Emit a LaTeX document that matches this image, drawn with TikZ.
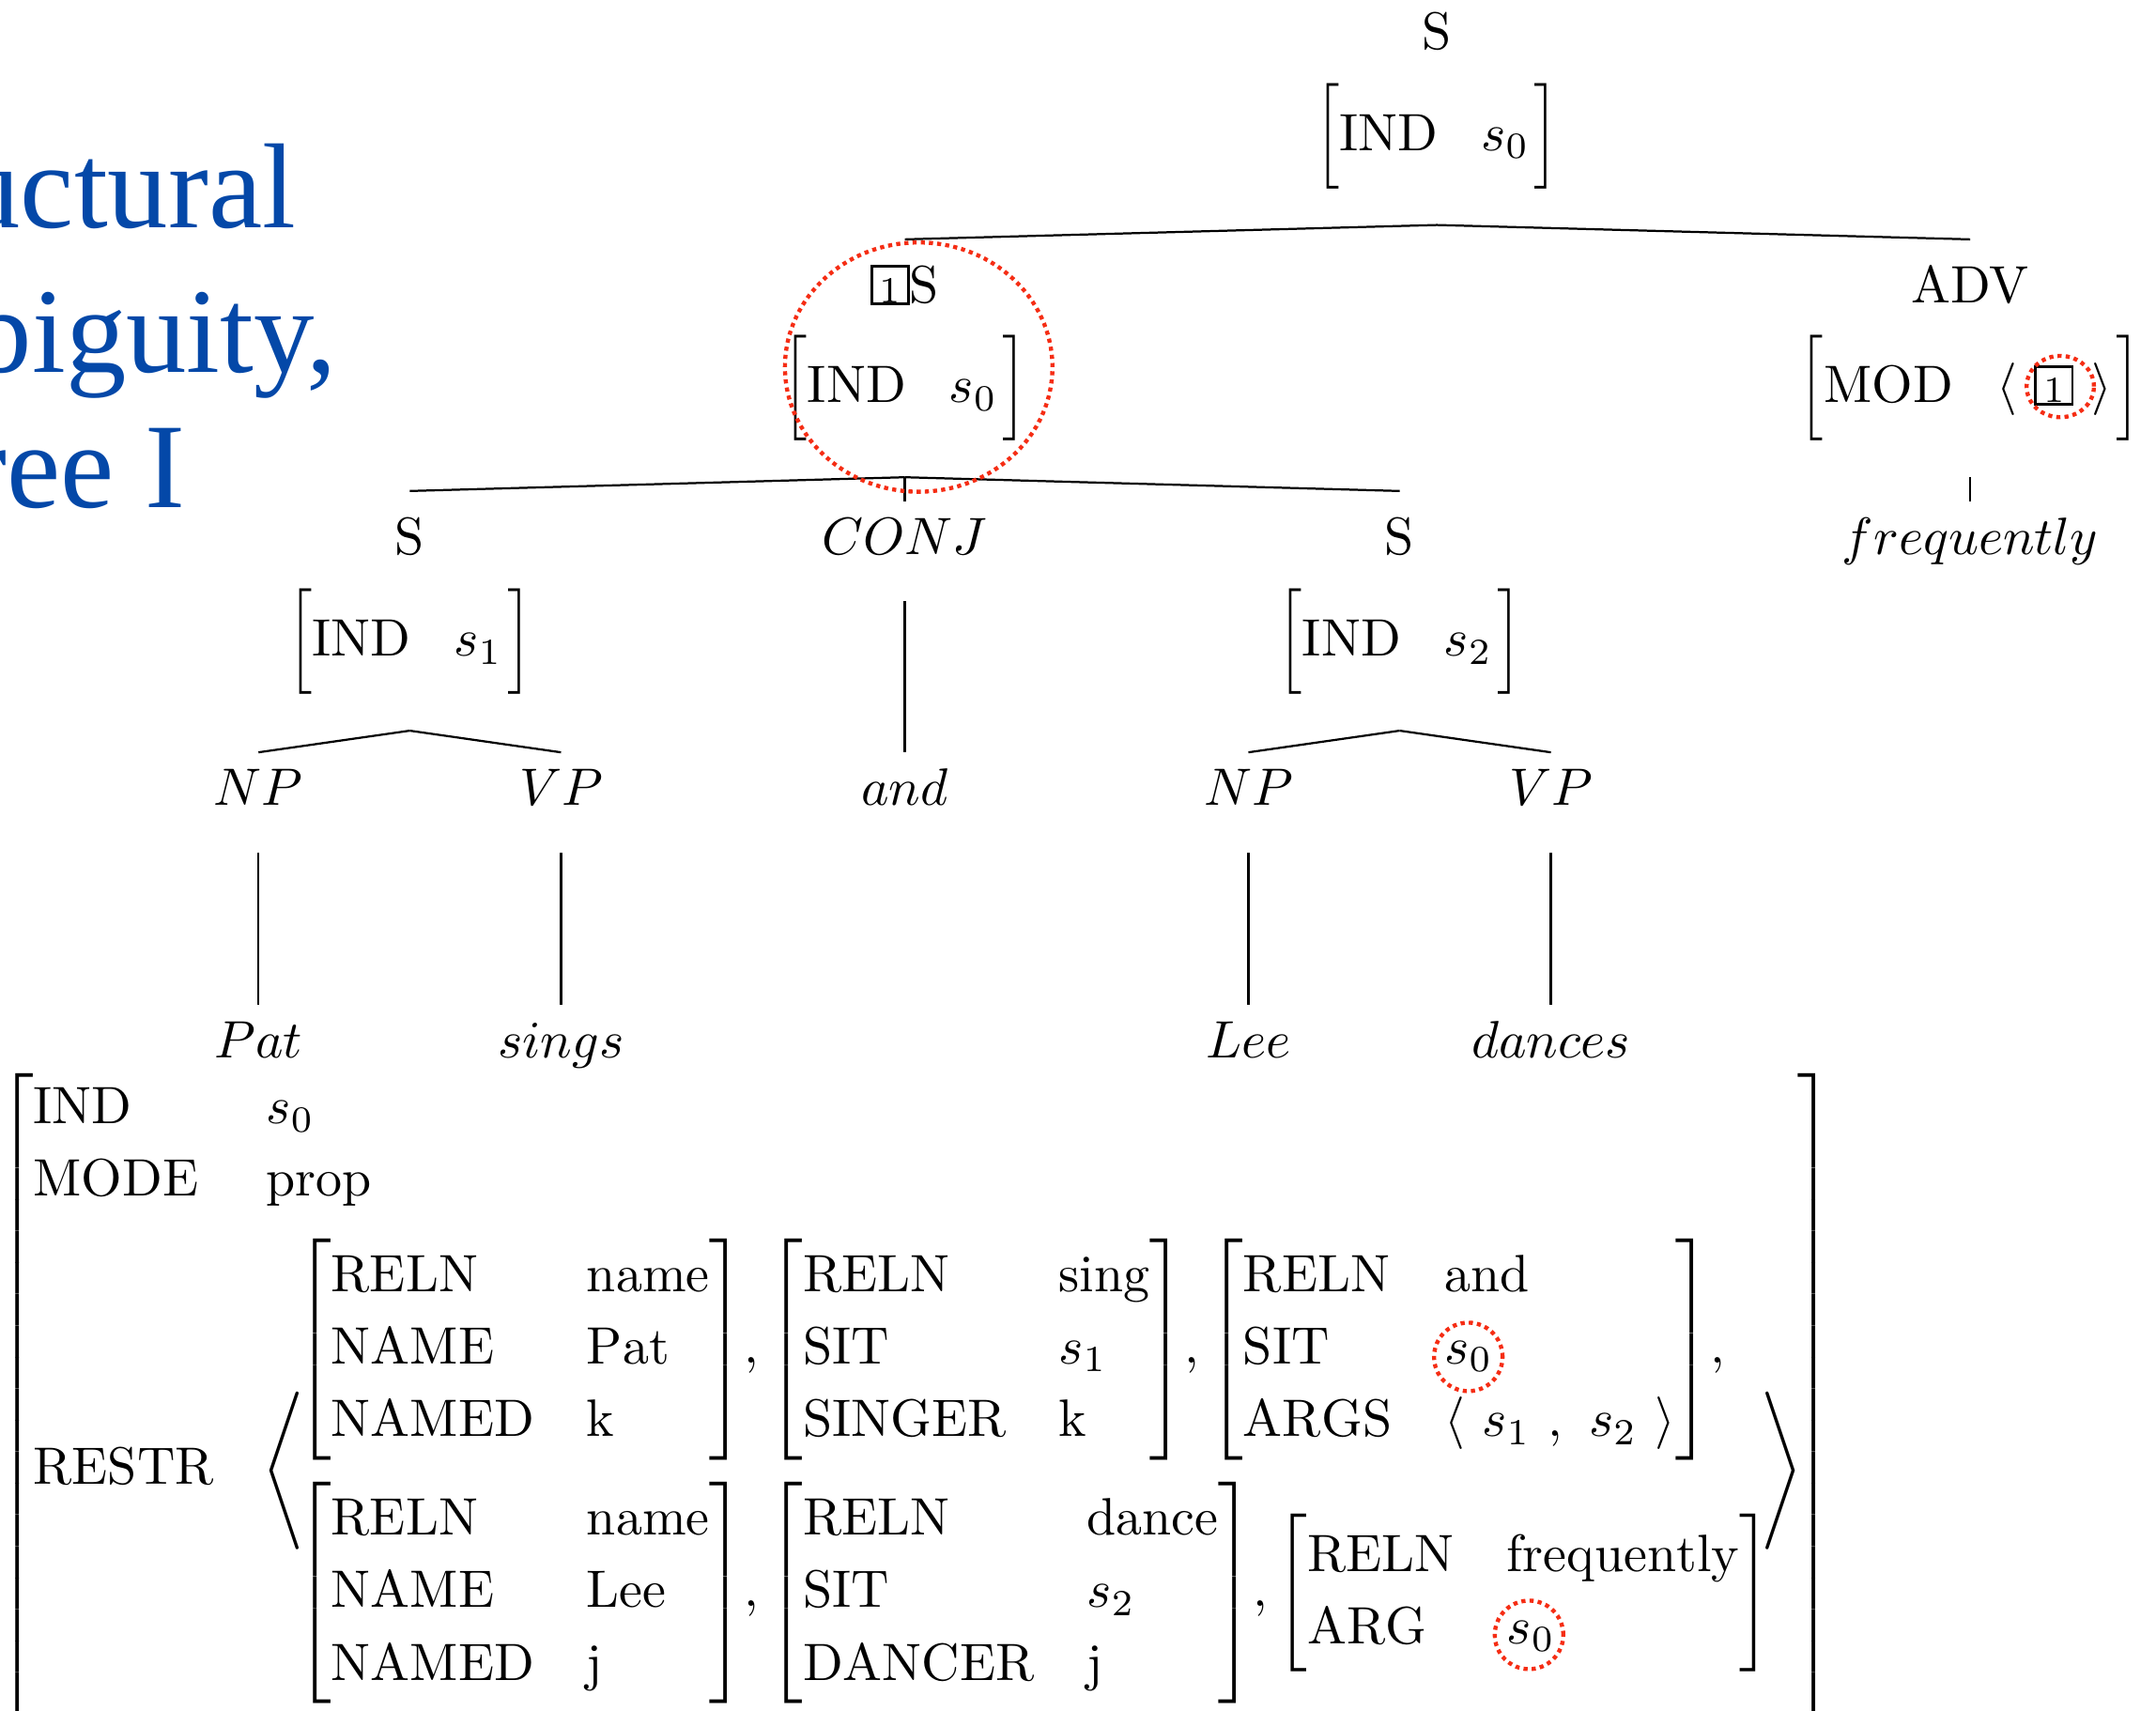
\documentclass[tikz,border=0pt]{standalone}
\usepackage{amsmath}
\usepackage{graphicx}
\usepackage{fontspec}
\newfontfamily\titlefont{Liberation Serif}
\definecolor{titleblue}{RGB}{4,72,168}
\definecolor{ringred}{RGB}{245,45,20}
\renewcommand{\arraystretch}{1.15}
\newcommand{\tagbox}[1]{{\setlength{\fboxsep}{0pt}\setlength{\fboxrule}{0.5pt}\fbox{\makebox[6.5pt]{\rule{0pt}{6.6pt}\scriptsize #1}}}}
\newcommand{\tlb}{\mathopen{\scalebox{1}[1.115]{$\Big[$}}}
\newcommand{\trb}{\mathclose{\scalebox{1}[1.115]{$\Big]$}}}
\newcommand{\avm}[1]{{\left[\begin{array}{@{}l@{\hspace{10pt}}l@{}}#1\end{array}\right]}}
\newcommand{\tavm}[2]{$\tlb\mathrm{#1}\hspace{8.2pt}#2\hspace{0.9pt}\trb$}
\tikzset{
  cat/.style={anchor=base, inner xsep=0pt, inner ysep=3pt, text height=6.9pt, text depth=5.8pt},
  head/.style={cat, text height=8.8pt},
  featbox/.style={inner xsep=0pt, inner ysep=6.7pt},
  ring/.style={draw=ringred, line width=0.78pt, dash pattern=on 0.78pt off 0.78pt},
  title/.style={anchor=base east, inner sep=0pt, text=titleblue, font=\titlefont\fontsize{23}{27}\selectfont}
}
\begin{document}
\begin{tikzpicture}
  \useasboundingbox (0,0) rectangle (14.412,11.434);
  % slide title, cut off at the left edge
  \node[title] (t1) at (1.985,9.911) {uctural};
  \node[title] (t2) at (2.258,8.944) {biguity,};
  \node[title] (t3) at (1.245,8.040) {ree I};

  % tree
  \node[cat] (root) at (9.605,11.107) {S};
  \node[featbox] (rootf) at (9.605,10.525) {\tavm{IND}{s_0}};
  \node[head] (s0) at (6.048,9.412) {\tagbox{1}S};
  \node[featbox] (s0f) at (6.048,8.839) {\tavm{IND}{s_0}};
  \node[head] (adv) at (13.17,9.412) {ADV};
  \node[featbox] (advf) at (13.17,8.839) {\tavm{MOD}{\langle\ \tagbox{1}\ \rangle}};
  \node[head] (s1) at (2.739,7.730) {S};
  \node[featbox] (s1f) at (2.739,7.145) {\tavm{IND}{s_1}};
  \node[cat] (conj) at (6.048,7.730) {$CONJ$};
  \node[head] (s2) at (9.356,7.730) {S};
  \node[featbox] (s2f) at (9.356,7.145) {\tavm{IND}{s_2}};
  \node[cat] (freq) at (13.17,7.730) {$frequently$};
  \node[cat] (np1) at (1.728,6.050) {$NP$};
  \node[cat] (vp1) at (3.750,6.050) {$VP$};
  \node[cat] (and) at (6.048,6.050) {$and$};
  \node[cat] (np2) at (8.345,6.050) {$NP$};
  \node[cat] (vp2) at (10.367,6.050) {$VP$};
  \node[cat] (pat) at (1.728,4.362) {$Pat$};
  \node[cat] (sings) at (3.750,4.362) {$sings$};
  \node[cat] (lee) at (8.345,4.362) {$Lee$};
  \node[cat] (dances) at (10.367,4.362) {$dances$};

  \draw (rootf.south) -- (s0.north);
  \draw (rootf.south) -- (adv.north);
  \draw (s0f.south) -- (s1.north);
  \draw (s0f.south) -- (conj.north);
  \draw (s0f.south) -- (s2.north);
  \draw (advf.south) -- (freq.north);
  \draw (s1f.south) -- (np1.north);
  \draw (s1f.south) -- (vp1.north);
  \draw (conj.south) -- (and.north);
  \draw (s2f.south) -- (np2.north);
  \draw (s2f.south) -- (vp2.north);
  \draw (np1.south) -- (pat.north);
  \draw (vp1.south) -- (sings.north);
  \draw (np2.south) -- (lee.north);
  \draw (vp2.south) -- (dances.north);

  % semantics of the whole sentence (runs on below the page)
  \node[anchor=north west, inner sep=0pt] (sem) at (-0.018,4.269) {$\avm{\mathrm{IND} & s_0\\
    \mathrm{MODE} & \mathrm{prop}\\[4pt]
    \mathrm{RESTR}\rule[-54pt]{0pt}{1pt} & \hspace{-0.8pt}\left\langle\begin{array}{@{\hspace{-1.6pt}}l@{\hspace{-1.8pt}}}
      \avm{\mathrm{RELN} & \mathrm{name}\\ \mathrm{NAME} & \mathrm{Pat}\\ \mathrm{NAMED} & \mathrm{k}},
      \avm{\mathrm{RELN} & \mathrm{sing}\\ \mathrm{SIT} & s_1\\ \mathrm{SINGER} & \mathrm{k}},
      \avm{\mathrm{RELN} & \mathrm{and}\\ \mathrm{SIT} & s_0\\ \mathrm{ARGS} & \langle\ s_1\ ,\ s_2\ \rangle},\\
      \noalign{\vskip 4.3pt}
      \avm{\mathrm{RELN} & \mathrm{name}\\ \mathrm{NAME} & \mathrm{Lee}\\ \mathrm{NAMED} & \mathrm{j}},
      \avm{\mathrm{RELN} & \mathrm{dance}\\ \mathrm{SIT} & s_2\\ \mathrm{DANCER} & \mathrm{j}},
      \avm{\mathrm{RELN} & \mathrm{frequently}\\ \mathrm{ARG} & s_0}
    \end{array}\right\rangle\hspace{-1pt}}$};

  % dotted rings
  \draw[ring] (6.141,8.980) ellipse [x radius=0.894, y radius=0.833];
  \draw[ring] (13.772,8.850) ellipse [x radius=0.225, y radius=0.205];
  \draw[ring] (9.815,2.364) circle [radius=0.229];
  \draw[ring] (10.221,0.506) circle [radius=0.229];
\end{tikzpicture}
\end{document}
